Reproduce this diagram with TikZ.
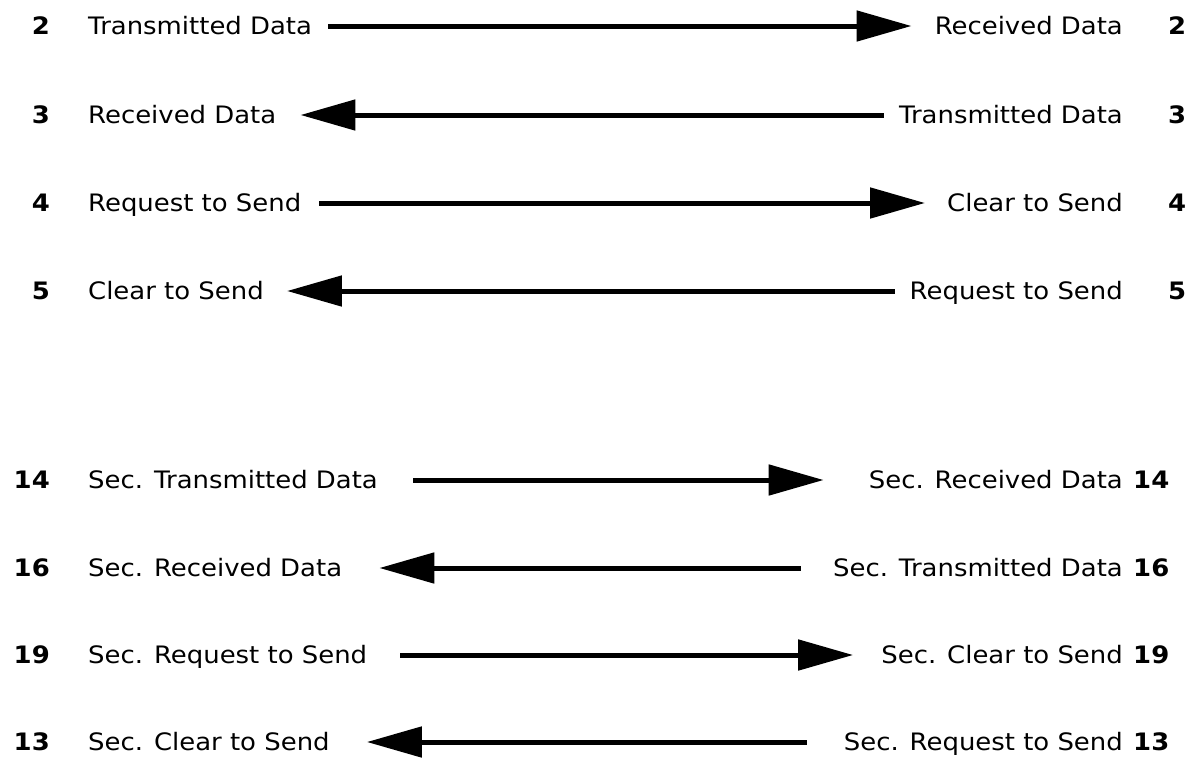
\documentclass[tikz,border=0pt]{standalone}
\usepackage{fontspec}
\setmainfont[FakeStretch=1.08]{DejaVu Sans}
\usetikzlibrary{arrows.meta}
\begin{document}
\begin{tikzpicture}[x=1pt,y=-1pt,
  lbl/.style={inner sep=0pt, text height=17.5pt, text depth=0pt,
              font=\fontsize{24}{28}\selectfont},
  lname/.style={lbl, anchor=west},
  rname/.style={lbl, anchor=east},
  lnum/.style={lbl, anchor=east, font=\fontsize{24}{28}\selectfont\bfseries},
  rnum/.style={lbl, anchor=west, font=\fontsize{24}{28}\selectfont\bfseries},
  sig/.style={line width=5pt, -{Triangle[length=55pt,width=30pt]}}]
\useasboundingbox (0,0) rectangle (1191,758);

% primary channel pins
\node[lnum]  (n2l) at (50,26)  {2};
\node[lname] (l2)  at (88,26)  {Transmitted Data};
\node[rname] (r2)  at (1123,26) {Received Data};
\node[rnum]  (n2r) at (1168,26) {2};

\node[lnum]  (n3l) at (50,115) {3};
\node[lname] (l3)  at (88,115) {Received Data};
\node[rname] (r3)  at (1123,115) {Transmitted Data};
\node[rnum]  (n3r) at (1168,115) {3};

\node[lnum]  (n4l) at (50,203) {4};
\node[lname] (l4)  at (88,203) {Request to Send};
\node[rname] (r4)  at (1123,203) {Clear to Send};
\node[rnum]  (n4r) at (1168,203) {4};

\node[lnum]  (n5l) at (50,291) {5};
\node[lname] (l5)  at (88,291) {Clear to Send};
\node[rname] (r5)  at (1123,291) {Request to Send};
\node[rnum]  (n5r) at (1168,291) {5};

% secondary channel pins
\node[lnum]  (n14l) at (50,480) {14};
\node[lname] (l14)  at (88,480) {Sec. Transmitted Data};
\node[rname] (r14)  at (1123,480) {Sec. Received Data};
\node[rnum]  (n14r) at (1133,480) {14};

\node[lnum]  (n16l) at (50,568) {16};
\node[lname] (l16)  at (88,568) {Sec. Received Data};
\node[rname] (r16)  at (1123,568) {Sec. Transmitted Data};
\node[rnum]  (n16r) at (1133,568) {16};

\node[lnum]  (n19l) at (50,655) {19};
\node[lname] (l19)  at (88,655) {Sec. Request to Send};
\node[rname] (r19)  at (1123,655) {Sec. Clear to Send};
\node[rnum]  (n19r) at (1133,655) {19};

\node[lnum]  (n13l) at (50,742) {13};
\node[lname] (l13)  at (88,742) {Sec. Clear to Send};
\node[rname] (r13)  at (1123,742) {Sec. Request to Send};
\node[rnum]  (n13r) at (1133,742) {13};

% signal directions
\draw[sig, shorten <=16pt, shorten >=23pt] (l2) -- (r2);
\draw[sig, shorten <=15pt, shorten >=24pt] (r3) -- (l3);
\draw[sig, shorten <=18pt, shorten >=22pt] (l4) -- (r4);
\draw[sig, shorten <=15pt, shorten >=23pt] (r5) -- (l5);

\draw[sig, shorten <=35pt, shorten >=45pt] (l14) -- (r14);
\draw[sig, shorten <=32pt, shorten >=37pt] (r16) -- (l16);
\draw[sig, shorten <=33pt, shorten >=28pt] (l19) -- (r19);
\draw[sig, shorten <=37pt, shorten >=37pt] (r13) -- (l13);
\end{tikzpicture}
\end{document}
